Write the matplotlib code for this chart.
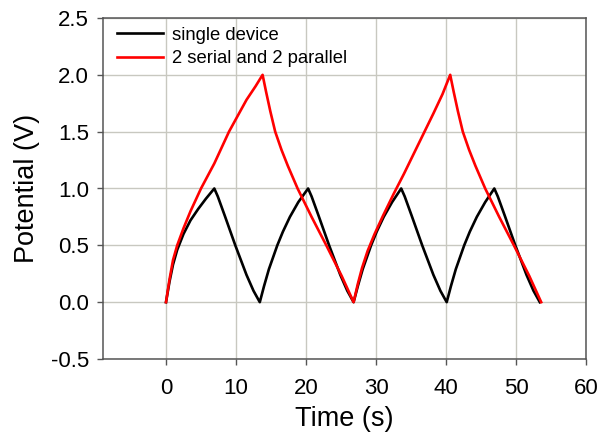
import matplotlib
matplotlib.use("Agg")
import matplotlib.pyplot as plt

plt.rcParams['font.family'] = ['Liberation Sans', 'DejaVu Sans']

# single device: time (s), potential (V)
single_t = [0, 0.5, 1.0, 1.6, 2.5, 3.5, 4.6, 5.7, 6.9,
            7.4, 8.4, 9.9, 11.5, 12.5, 13.4,
            14.0, 14.7, 15.9, 16.7, 17.7, 18.9, 20.3,
            20.8, 21.8, 23.3, 24.9, 25.9, 26.8,
            27.4, 28.1, 29.3, 30.1, 31.1, 32.3, 33.6,
            34.1, 35.1, 36.6, 38.2, 39.2, 40.1,
            40.7, 41.4, 42.6, 43.4, 44.4, 45.6, 46.9,
            47.4, 48.4, 49.9, 51.5, 52.5, 53.4]
single_v = [0, 0.18, 0.33, 0.46, 0.6, 0.72, 0.82, 0.91, 1.0,
            0.93, 0.76, 0.5, 0.24, 0.1, 0,
            0.14, 0.29, 0.5, 0.62, 0.75, 0.88, 1.0,
            0.93, 0.76, 0.5, 0.24, 0.1, 0,
            0.14, 0.29, 0.5, 0.62, 0.75, 0.88, 1.0,
            0.93, 0.76, 0.5, 0.24, 0.1, 0,
            0.14, 0.29, 0.5, 0.62, 0.75, 0.88, 1.0,
            0.93, 0.76, 0.5, 0.24, 0.1, 0]

# 2 serial and 2 parallel
pack_t = [0, 0.5, 1.0, 1.6, 2.5, 3.5, 5.0, 6.9, 9.0, 11.5, 12.8, 13.8,
          14.3, 14.9, 15.6, 16.5, 17.4, 18.8, 20.8, 22.9, 25.1, 26.8,
          27.4, 28.0, 28.8, 29.8, 31.0, 32.5, 34.0, 35.9, 38.2, 39.5, 40.6,
          41.1, 41.7, 42.4, 43.3, 44.2, 45.6, 47.6, 49.7, 51.9, 53.6]
pack_v = [0, 0.2, 0.37, 0.5, 0.65, 0.8, 1.0, 1.22, 1.5, 1.78, 1.9, 2.0,
          1.85, 1.68, 1.5, 1.34, 1.2, 1.0, 0.75, 0.5, 0.23, 0,
          0.16, 0.3, 0.45, 0.6, 0.76, 0.95, 1.13, 1.37, 1.66, 1.83, 2.0,
          1.85, 1.68, 1.5, 1.34, 1.2, 1.0, 0.75, 0.5, 0.23, 0]

fig = plt.figure(figsize=(5.99, 4.40), dpi=100)
ax = fig.add_axes([103/599, 1 - 359/440, 483/599, 341/440])

ax.plot(single_t, single_v, color="black", lw=1.9, label="single device", zorder=3)
ax.plot(pack_t, pack_v, color="#ff0000", lw=1.9, label="2 serial and 2 parallel", zorder=3)

ax.set_xlim(-9, 60)
ax.set_ylim(-0.5, 2.5)
ax.set_xticks(range(0, 61, 10))
ax.set_yticks([-0.5, 0.0, 0.5, 1.0, 1.5, 2.0, 2.5])
ax.set_yticklabels(["-0.5", "0.0", "0.5", "1.0", "1.5", "2.0", "2.5"])
ax.grid(True, color="#c8c8c0", lw=1.0, zorder=0)
ax.set_axisbelow(True)

for s in ax.spines.values():
    s.set_color("#555555")
    s.set_linewidth(1.1)

ax.tick_params(axis="x", direction="out", length=4, width=1, color="#555555",
               labelsize=16, pad=10)
ax.tick_params(axis="y", direction="out", length=4, width=1, color="#555555",
               labelsize=16, pad=6)

ax.set_xlabel("Time (s)", fontsize=19.5, labelpad=5)
ax.set_ylabel("Potential (V)", fontsize=19.5, labelpad=8)

ax.legend(loc="upper left", bbox_to_anchor=(0.029, 0.975), frameon=False,
          fontsize=13.3, handlelength=2.5, handletextpad=0.45,
          borderpad=0, borderaxespad=0, labelspacing=0.35)

fig.savefig("out.png", dpi=100)
